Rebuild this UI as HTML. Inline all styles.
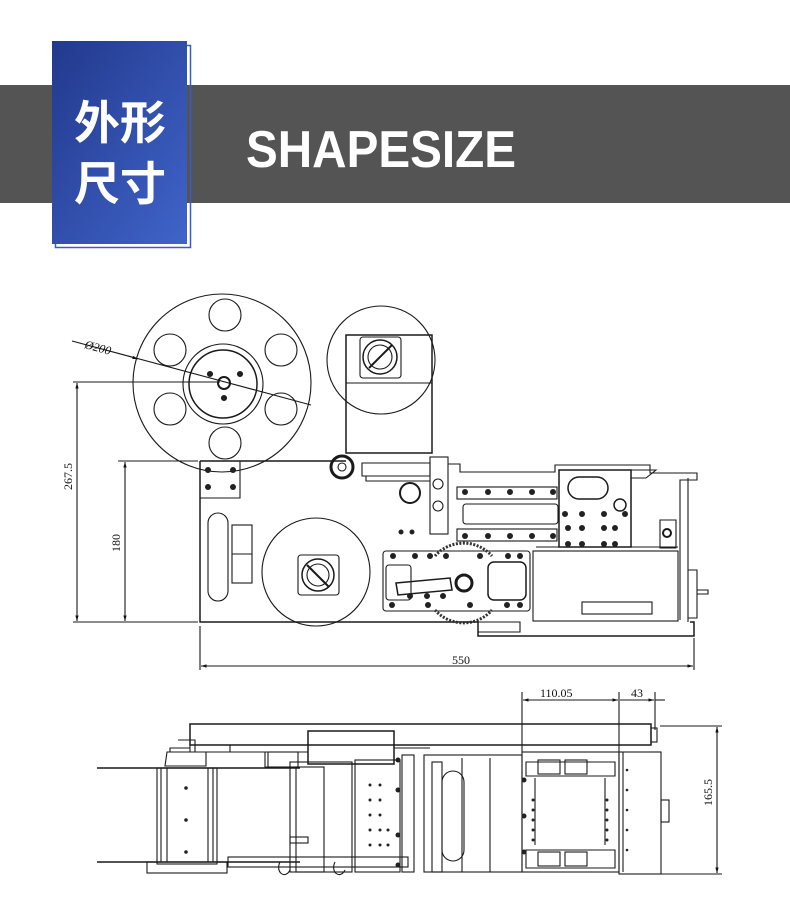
<!DOCTYPE html>
<html><head><meta charset="utf-8"><style>
html,body{margin:0;padding:0;background:#fff;width:790px;height:907px;overflow:hidden}
svg{display:block}
</style></head><body>
<svg width="790" height="907" viewBox="0 0 790 907" xmlns="http://www.w3.org/2000/svg">
<defs>
<linearGradient id="bg" x1="0" y1="0" x2="1" y2="1">
<stop offset="0" stop-color="#22398c"/><stop offset="1" stop-color="#4064ca"/></linearGradient>
<marker id="ar" viewBox="0 0 10 10" refX="10" refY="5" markerWidth="9" markerHeight="5" orient="auto-start-reverse"><path d="M0,2 L10,5 L0,8 z" fill="#111"/></marker>
</defs>
<!-- header -->
<rect x="0" y="85" width="790" height="118" fill="#545454"/>
<rect x="55.5" y="45.5" width="135" height="202" fill="none" stroke="#3a5cc0" stroke-width="1.5"/>
<rect x="52" y="41" width="135" height="203" fill="url(#bg)"/>
<text x="120" y="139" font-family="Liberation Sans,'Noto Sans CJK SC',sans-serif" font-size="46" font-weight="bold" fill="#fff" text-anchor="middle">外形</text>
<text x="120" y="200" font-family="Liberation Sans,'Noto Sans CJK SC',sans-serif" font-size="46" font-weight="bold" fill="#fff" text-anchor="middle">尺寸</text>
<text x="246" y="167" font-family="Liberation Sans,sans-serif" font-size="52" font-weight="bold" fill="#fff" textLength="270" lengthAdjust="spacingAndGlyphs">SHAPESIZE</text>

<g fill="none" stroke="#1a1a1a" stroke-width="1.1">
<!-- big reel -->
<circle cx="222" cy="383" r="89"/>
<circle cx="225" cy="315" r="16"/><circle cx="170" cy="350" r="16"/><circle cx="281" cy="350" r="16"/>
<circle cx="170" cy="409" r="16"/><circle cx="281" cy="409" r="16"/><circle cx="225" cy="443" r="16"/>
<circle cx="223" cy="384" r="40"/><circle cx="223" cy="384" r="34" stroke-width="1.5"/>
<circle cx="224" cy="383" r="6" stroke-width="2"/>
<circle cx="210" cy="374" r="2.5" fill="#222"/><circle cx="240" cy="374" r="2.5" fill="#222"/><circle cx="224" cy="398" r="2.5" fill="#222"/>
<path d="M72,341 L311,405"/>
<path d="M128,356 L138,359" marker-end="url(#ar)"/>
<!-- upper right circle -->
<circle cx="381" cy="360" r="54"/>
<rect x="346" y="335" width="86" height="118" stroke-width="1.5"/>
<line x1="346" y1="383" x2="432" y2="383"/>
<rect x="360" y="337" width="41" height="41" rx="3"/>
<circle cx="380" cy="357" r="17" stroke-width="1.5"/><circle cx="380" cy="357" r="12"/>
<line x1="369" y1="368" x2="392" y2="345" stroke-width="2"/>
<!-- dims top -->
<line x1="73" y1="382" x2="220" y2="382"/>
<line x1="118" y1="461" x2="198" y2="461"/>
<line x1="73" y1="622" x2="198" y2="622"/>
<line x1="77" y1="383" x2="77" y2="621" marker-start="url(#ar)" marker-end="url(#ar)"/>
<line x1="125" y1="462" x2="125" y2="621" marker-start="url(#ar)" marker-end="url(#ar)"/>
<line x1="200" y1="626" x2="200" y2="670"/>
<line x1="694" y1="638" x2="694" y2="670"/>
<line x1="201" y1="666" x2="693" y2="666" marker-start="url(#ar)" marker-end="url(#ar)"/>
<!-- main plate -->
<path d="M200,461 L346,461 M200,461 L200,622 L478,622 L478,636 L694,636 L694,622 L690,622" stroke-width="1.5"/>
<path d="M200,461 L240,461 L240,498 L200,498"/>
<rect x="208" y="513" width="20" height="88" rx="10"/>
<rect x="232" y="525" width="20" height="58"/>
<line x1="232" y1="554" x2="252" y2="554"/>
<!-- lower circle -->
<circle cx="316" cy="572" r="54"/>
<rect x="298" y="555" width="41" height="40" rx="3"/>
<circle cx="318" cy="575" r="16" stroke-width="1.5"/><circle cx="318" cy="575" r="11"/>
<line x1="307" y1="565" x2="329" y2="587" stroke-width="2"/>
<!-- roller -->
<circle cx="342" cy="467" r="11" stroke-width="3"/><circle cx="342" cy="467" r="4"/>
<!-- rail -->
<path d="M362,463 L430,463 L430,476 L362,476 Z M366,476 L366,481 L430,481"/>
<rect x="430" y="457" width="18" height="77"/>
<circle cx="438" cy="484" r="5"/><circle cx="438" cy="506" r="5"/>
<circle cx="410" cy="493" r="10" stroke-width="2"/>
<path d="M448,464 L460,464 L460,472 L555,472 L555,465 L650,465 L650,473 L697,473 L697,480 L680,480 L680,620"/>
<path d="M688,478 L688,622"/>
<rect x="457" y="487" width="100" height="12"/>
<rect x="463" y="504" width="95" height="20" rx="3"/>
<rect x="457" y="529" width="100" height="12"/>
<!-- right block -->
<rect x="559" y="470" width="72" height="77" stroke-width="1.5"/>
<rect x="568" y="477" width="40" height="22" rx="11" stroke-width="1.5"/>
<circle cx="620" cy="505" r="6" stroke-width="1.5"/>
<path d="M631,470 L656,470 L646,478 L631,478"/>
<path d="M660,520 L676,520 L676,548 L660,548 Z"/><circle cx="667" cy="533" r="4" stroke-width="2"/>
<path d="M536,547 L678,547 M536,551 L678,551"/>
<rect x="533" y="551" width="145" height="70"/>
<rect x="582" y="602" width="70" height="12"/>
<path d="M688,570 L697,570 L697,618 L688,618 M697,590 L708,590 L708,594 L697,594"/>
<!-- mechanism left -->
<rect x="383" y="551" width="147" height="60" rx="3"/>
<rect x="386" y="565" width="25" height="35" rx="3"/>
<path d="M396,583 L450,578 L452,590 L398,595 Z" stroke-width="1.5"/>
<circle cx="464" cy="583" r="8" stroke-width="3"/>
<path d="M435,556 A38,38 0 0 1 492,556" stroke="#333" stroke-dasharray="2 1.5" stroke-width="3"/>
<path d="M435,610 A38,38 0 0 0 492,610" stroke="#333" stroke-dasharray="2 1.5" stroke-width="3"/>
<rect x="488" y="562" width="38" height="38" rx="6" stroke-width="1.5"/>
<path d="M463,622 L520,622 L520,632 L478,632"/>
<!-- bottom view -->
<line x1="522" y1="692" x2="522" y2="752"/>
<line x1="619" y1="692" x2="619" y2="752"/>
<line x1="655" y1="692" x2="655" y2="730"/>
<line x1="523" y1="700" x2="618" y2="700" marker-start="url(#ar)" marker-end="url(#ar)"/>
<line x1="620" y1="700" x2="654" y2="700" marker-end="url(#ar)"/>
<line x1="655" y1="700" x2="665" y2="700"/>
<line x1="660" y1="726" x2="722" y2="726"/>
<line x1="660" y1="874" x2="722" y2="874"/>
<line x1="717" y1="727" x2="717" y2="873" marker-start="url(#ar)" marker-end="url(#ar)"/>
<rect x="190" y="724" width="461" height="21" stroke-width="1.5"/>
<rect x="651" y="728" width="6" height="14"/>
<rect x="308" y="731" width="86" height="33" stroke-width="1.5"/>
<path d="M190,745 L190,752 L170,752 L170,748 L190,748 M167,752 L206,752 L206,766 L165,766 Z"/>
<path d="M178,740 L195,740 L195,752"/>
<path d="M206,752 L308,752 M394,748 L430,748 M230,745 L230,752 M265,752 L265,767 L300,767"/>
<line x1="97" y1="768" x2="300" y2="768" stroke-width="1.5"/>
<line x1="97" y1="862" x2="300" y2="862" stroke-width="1.5"/>
<rect x="157" y="768" width="60" height="96"/>
<rect x="147" y="862" width="80" height="11"/>
<line x1="167" y1="768" x2="167" y2="862"/><line x1="208" y1="768" x2="208" y2="862"/>
<line x1="161" y1="768" x2="161" y2="862"/><line x1="213" y1="768" x2="213" y2="862"/>
<rect x="268" y="752" width="30" height="15"/>
<rect x="290" y="762" width="62" height="110"/>
<rect x="296" y="767" width="28" height="105"/>
<rect x="290" y="837" width="18" height="6"/>
<rect x="355" y="760" width="45" height="112"/>
<rect x="402" y="755" width="12" height="117"/>
<rect x="228" y="857" width="180" height="10"/>
<rect x="424" y="755" width="98" height="117"/>
<rect x="432" y="762" width="10" height="110"/>
<rect x="442" y="771" width="22" height="90" rx="11"/>
<line x1="462" y1="758" x2="462" y2="872"/><line x1="490" y1="758" x2="490" y2="872"/>
<rect x="522" y="752" width="97" height="120"/>
<line x1="535" y1="778" x2="535" y2="845"/><line x1="605" y1="778" x2="605" y2="845"/>
<path d="M526,762 L615,762 L615,776 L526,776 Z M526,850 L615,850 L615,868 L526,868 Z"/>
<rect x="538" y="760" width="22" height="14"/><rect x="565" y="760" width="22" height="14"/>
<rect x="538" y="852" width="22" height="14"/><rect x="565" y="852" width="22" height="14"/>
<rect x="619" y="752" width="42" height="122"/>
<line x1="623" y1="752" x2="623" y2="872"/>
<rect x="661" y="800" width="8" height="22"/>
<path d="M280,862 C275,872 285,880 290,870 M335,862 C330,872 340,880 345,870"/>
</g>
<g fill="#222">
<circle cx="208" cy="470" r="3"/><circle cx="233" cy="470" r="3"/><circle cx="208" cy="487" r="3"/><circle cx="233" cy="487" r="3"/>
<g><circle cx="465" cy="492" r="3"/><circle cx="488" cy="492" r="3"/><circle cx="510" cy="492" r="3"/><circle cx="532" cy="492" r="3"/><circle cx="553" cy="492" r="3"/>
<circle cx="465" cy="536" r="3"/><circle cx="488" cy="536" r="3"/><circle cx="510" cy="536" r="3"/><circle cx="532" cy="536" r="3"/><circle cx="553" cy="536" r="3"/></g>
<circle cx="565" cy="514" r="3"/><circle cx="582" cy="514" r="3"/><circle cx="604" cy="514" r="3"/><circle cx="625" cy="514" r="3"/>
<circle cx="568" cy="528" r="3"/><circle cx="582" cy="528" r="3"/><circle cx="604" cy="528" r="3"/><circle cx="615" cy="528" r="3"/>
<circle cx="568" cy="544" r="3"/><circle cx="582" cy="544" r="3"/><circle cx="604" cy="544" r="3"/><circle cx="615" cy="544" r="3"/>
<circle cx="393" cy="556" r="3"/><circle cx="415" cy="556" r="3"/><circle cx="430" cy="556" r="3"/><circle cx="446" cy="556" r="3"/><circle cx="480" cy="556" r="3"/><circle cx="508" cy="556" r="3"/><circle cx="520" cy="556" r="3"/>
<circle cx="392" cy="605" r="3"/><circle cx="428" cy="605" r="3"/><circle cx="470" cy="605" r="3"/><circle cx="507" cy="605" r="3"/><circle cx="520" cy="605" r="3"/>
<circle cx="410" cy="596" r="3"/><circle cx="427" cy="596" r="3"/><circle cx="443" cy="596" r="3"/>
<circle cx="401" cy="532" r="2.5"/><circle cx="412" cy="532" r="2.5"/>
<!-- bottom holes -->
<circle cx="186" cy="788" r="1.8"/><circle cx="186" cy="820" r="1.8"/><circle cx="186" cy="852" r="1.8"/>
<circle cx="370" cy="785" r="1.5"/><circle cx="380" cy="785" r="1.5"/><circle cx="370" cy="800" r="1.5"/><circle cx="380" cy="800" r="1.5"/>
<circle cx="370" cy="815" r="1.5"/><circle cx="380" cy="815" r="1.5"/><circle cx="370" cy="830" r="1.5"/><circle cx="380" cy="830" r="1.5"/>
<circle cx="370" cy="845" r="1.5"/><circle cx="380" cy="845" r="1.5"/><circle cx="388" cy="830" r="1.5"/><circle cx="388" cy="845" r="1.5"/>
<circle cx="533" cy="800" r="1.5"/><circle cx="533" cy="810" r="1.5"/><circle cx="533" cy="820" r="1.5"/><circle cx="533" cy="830" r="1.5"/><circle cx="533" cy="840" r="1.5"/>
<circle cx="607" cy="800" r="1.5"/><circle cx="607" cy="810" r="1.5"/><circle cx="607" cy="820" r="1.5"/><circle cx="607" cy="830" r="1.5"/><circle cx="607" cy="840" r="1.5"/>
<circle cx="627" cy="770" r="1.3"/><circle cx="627" cy="790" r="1.3"/><circle cx="627" cy="810" r="1.3"/><circle cx="627" cy="830" r="1.3"/><circle cx="627" cy="850" r="1.3"/>
<circle cx="524" cy="780" r="2.5"/><circle cx="524" cy="816" r="2.5"/><circle cx="524" cy="852" r="2.5"/>
<circle cx="398" cy="760" r="2.5"/><circle cx="398" cy="790" r="2.5"/><circle cx="398" cy="835" r="2.5"/><circle cx="398" cy="865" r="2.5"/>
</g>
<g font-family="Liberation Serif,serif" font-size="12" fill="#111">
<text x="84" y="348" transform="rotate(15 84 348)" font-style="italic">Ø200</text>
<text x="72" y="490" transform="rotate(-90 72 490)">267.5</text>
<text x="120" y="552" transform="rotate(-90 120 552)">180</text>
<text x="452" y="664">550</text>
<text x="540" y="697">110.05</text>
<text x="631" y="697">43</text>
<text x="712" y="806" transform="rotate(-90 712 806)">165.5</text>
</g>
</svg>
</body></html>
